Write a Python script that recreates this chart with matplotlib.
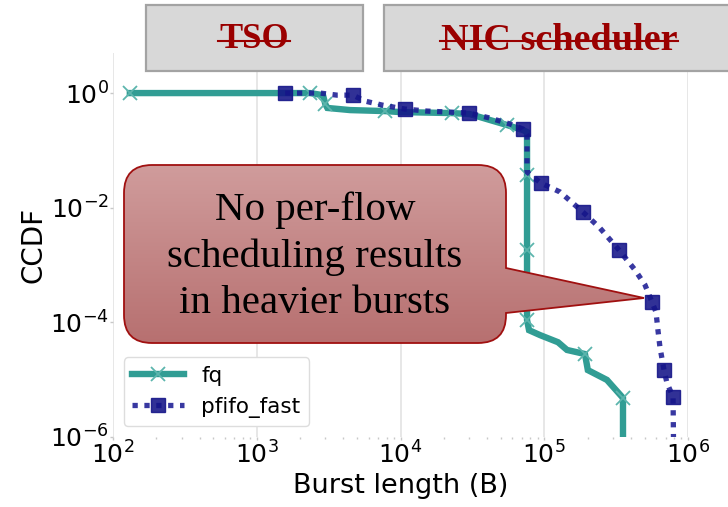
import matplotlib
matplotlib.use('Agg')
import matplotlib.pyplot as plt
import numpy as np
from matplotlib.patches import Rectangle, PathPatch
from matplotlib.path import Path
from matplotlib.lines import Line2D
from matplotlib.ticker import LogLocator, NullFormatter, NullLocator

# ---------------- data ----------------
fq_x = [131, 2345, 2890, 3000, 3100, 4460, 7800, 9930, 22800, 30400, 42000,
        55100, 71200, 75900, 75900, 75900, 75900, 78400, 93400, 124700,
        144000, 192000, 201000, 273000, 353000, 353000]
fq_y = [1.0, 1.0, 0.92, 0.64, 0.55, 0.505, 0.485, 0.466, 0.448, 0.43, 0.338,
        0.277, 0.226, 0.209, 0.0371, 0.00183, 1.1e-4, 7.3e-5, 6.0e-5, 4.5e-5,
        3.3e-5, 2.8e-5, 1.47e-5, 9.9e-6, 4.8e-6, 1e-7]
fq_marks = [0, 1, 3, 6, 8, 11, 14, 15, 16, 21, 24]

pf_x = [1575, 2755, 3615, 4670, 5660, 7430, 10740, 15300, 30000, 42000, 57800,
        71200, 75900, 75900, 94900, 128800, 186000, 244000, 331000, 428000,
        502000, 562000, 599000, 618000, 638000, 681000, 714000, 787000, 800000]
pf_y = [1.0, 1.0, 0.92, 0.92, 0.725, 0.618, 0.526, 0.485, 0.448, 0.366, 0.288,
        0.236, 0.185, 0.0419, 0.0269, 0.0188, 0.0084, 0.00442, 0.00183, 8.2e-4,
        4.5e-4, 2.26e-4, 1.51e-4, 7.3e-5, 3.7e-5, 1.47e-5, 8.75e-6, 5.0e-6, 1e-7]
pf_marks = [0, 3, 6, 8, 11, 14, 16, 18, 21, 25, 27]

series_labels = ['fq', 'pfifo_fast']
x_label = 'Burst length (B)'
y_label = 'CCDF'
callout_text = 'No per-flow\nscheduling results\nin heavier bursts'
box_texts = ['TSO', 'NIC scheduler']

W, H = 728, 507
fig = plt.figure(figsize=(W / 100, H / 100), dpi=100)
ax = fig.add_axes([113 / W, 1 - 437 / H, 575 / W, 384 / H])
ax.set_xscale('log')
ax.set_yscale('log')

ax.plot(fq_x, fq_y, color='#319d94', lw=4.6, marker='x', ms=10, mew=1.3,
        mec='#5cb5ad', markevery=fq_marks, label=series_labels[0],
        solid_joinstyle='miter', zorder=3)
ax.plot(pf_x, pf_y, color='#1c1c94', lw=3.8, ls=(0, (1.0, 1.25)), marker='s',
        ms=10, mfc='#141488', mec='#141488', alpha=0.88, markevery=pf_marks,
        label=series_labels[1], zorder=4)

ax.set_xlim(100, 1e6)
ax.set_ylim(1e-6, 5)
ax.xaxis.set_major_locator(LogLocator(base=10, numticks=10))
ax.xaxis.set_minor_locator(LogLocator(base=10, subs=np.arange(2, 10), numticks=10))
ax.xaxis.set_minor_formatter(NullFormatter())
ax.yaxis.set_major_locator(LogLocator(base=100, numticks=10))
ax.yaxis.set_minor_locator(NullLocator())
ax.yaxis.set_minor_formatter(NullFormatter())
for s in ax.spines.values():
    s.set_visible(False)
ax.grid(True, axis='x', which='major', color='#e3e3e3', lw=1.2, zorder=0)
ax.grid(False, axis='y')
ax.set_axisbelow(True)
ax.tick_params(which='major', length=2, width=1, color='#c8c8c8', labelsize=18, pad=1)
ax.tick_params(which='minor', length=1.5, width=1, color='#c8c8c8')
ax.set_xlabel(x_label, fontsize=19.5, labelpad=3)
ax.set_ylabel(y_label, fontsize=20, labelpad=2)

leg = ax.legend(loc='lower left', fontsize=15.5, handlelength=2.4, numpoints=1,
                frameon=True, fancybox=True, framealpha=1, edgecolor='#dddddd',
                borderaxespad=0.5, labelspacing=0.5, handletextpad=0.8)
leg.get_frame().set_linewidth(1.0)

# ---------------- overlay annotations (pixel coords) ----------------
ov = fig.add_axes([0, 0, 1, 1], zorder=10)
ov.set_xlim(0, W)
ov.set_ylim(H, 0)
ov.axis('off')
ov.patch.set_alpha(0)

# gray boxes with struck-out red text
ov.add_patch(Rectangle((146, 5), 217, 66, fc='#d8d8d8', ec='#a3a3a3', lw=1.6))
ov.add_patch(Rectangle((384, 5), 360, 66, fc='#d8d8d8', ec='#a3a3a3', lw=1.6))
red = '#9a0000'
t1 = ov.text(254, 40, box_texts[0], ha='center', va='center', fontsize=25,
             fontweight='bold', family='Liberation Serif', color=red)
t2 = ov.text(559, 40, box_texts[1], ha='center', va='center', fontsize=27.5,
             fontweight='bold', family='Liberation Serif', color=red)

# callout with pointer
x0, x1, y0, y1, r = 124, 506, 165, 343, 28
tip = (644, 298)
verts = [(x0 + r, y0), (x1 - r, y0), (x1, y0), (x1, y0 + r), (x1, 268), tip,
         (x1, 313), (x1, y1 - r), (x1, y1), (x1 - r, y1), (x0 + r, y1),
         (x0, y1), (x0, y1 - r), (x0, y0 + r), (x0, y0), (x0 + r, y0),
         (x0 + r, y0)]
codes = [Path.MOVETO, Path.LINETO, Path.CURVE3, Path.CURVE3, Path.LINETO,
         Path.LINETO, Path.LINETO, Path.LINETO, Path.CURVE3, Path.CURVE3,
         Path.LINETO, Path.CURVE3, Path.CURVE3, Path.LINETO, Path.CURVE3,
         Path.CURVE3, Path.CLOSEPOLY]
path = Path(verts, codes)
clip = PathPatch(path, fc='none', ec='none')
ov.add_patch(clip)
top_c = np.array([0xd0, 0x9c, 0x9c]) / 255
bot_c = np.array([0xb7, 0x70, 0x70]) / 255
tt = np.linspace(0, 1, 256)[:, None]
grad = (top_c[None, :] * (1 - tt) + bot_c[None, :] * tt)[:, None, :]
im = ov.imshow(grad, extent=(x0, tip[0] + 2, y1, y0), origin='upper',
               aspect='auto', zorder=11, interpolation='bilinear')
im.set_clip_path(clip)
ov.add_patch(PathPatch(path, fc='none', ec='#a01010', lw=1.3, zorder=12))
ov.set_xlim(0, W)
ov.set_ylim(H, 0)
ov.text(315, 257, callout_text, ha='center', va='center', fontsize=29.5,
        family='Liberation Serif', color='black', linespacing=1.33, zorder=13)

# strike-through lines
fig.canvas.draw()
rend = fig.canvas.get_renderer()
for t in (t1, t2):
    bb = t.get_window_extent(rend)
    ov.add_line(Line2D([bb.x0 - 1, bb.x1 + 1], [41, 41], color=red, lw=1.5, zorder=14))

fig.savefig('out.png', dpi=100)
